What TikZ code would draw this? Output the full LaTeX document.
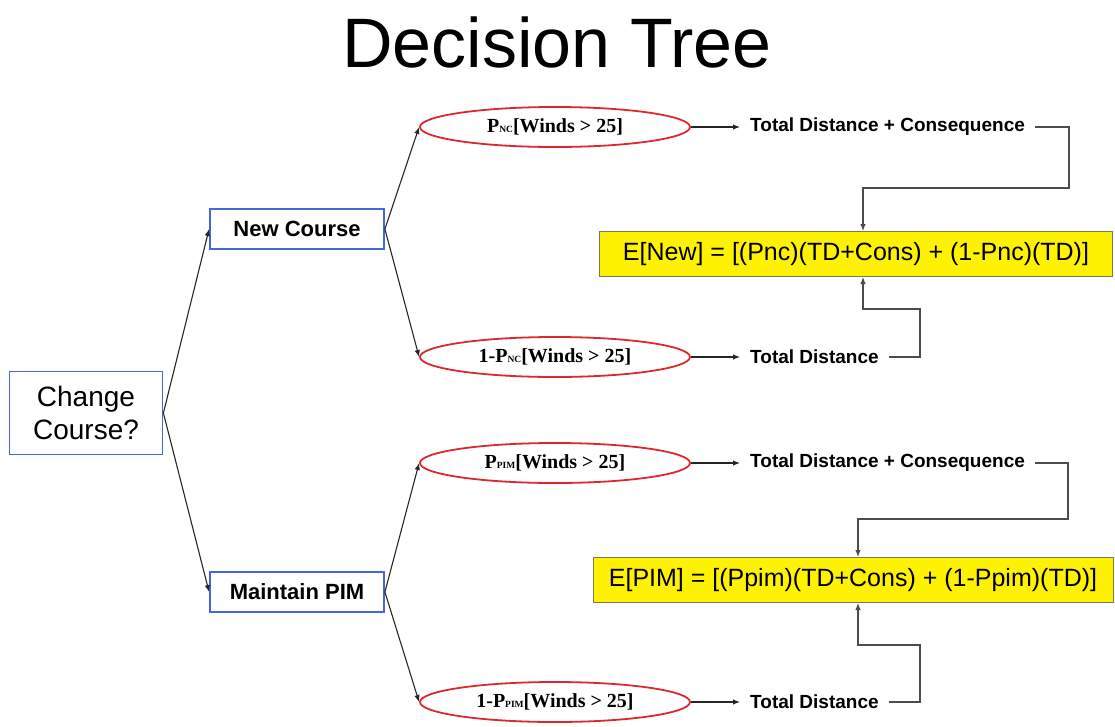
\documentclass[tikz,border=0pt]{standalone}
\usepackage{fontspec}
\setmainfont{Liberation Sans}
\newfontfamily\tms{Liberation Serif}
\usepackage{xcolor}
\usetikzlibrary{shapes.geometric,arrows.meta}

\definecolor{boxblue}{RGB}{66,104,218}
\definecolor{ovalred}{RGB}{222,40,48}
\definecolor{evline}{RGB}{120,120,90}
\newcommand{\sml}[1]{{\fontsize{9.5}{9}\selectfont #1}}

\begin{document}
\begin{tikzpicture}[x=1pt,y=-1pt]
        \tikzset{box/.style={draw=boxblue,line width=1.8pt,inner sep=0pt,align=center},
            choice/.style={box,minimum width=174pt,minimum height=40pt,
                font=\fontsize{22}{24}\selectfont\bfseries},
            chance/.style={ellipse,draw=ovalred,line width=1.8pt,inner sep=0pt,
                minimum width=270pt,minimum height=40pt,font=\fontsize{20}{20}\selectfont\tms\bfseries},
            outcome/.style={inner sep=10pt,anchor=west,font=\fontsize{19}{20}\selectfont\bfseries},
            ev/.style={fill=yellow,draw=evline,line width=1pt,minimum height=45pt,
                font=\fontsize{25}{26}\selectfont},
            arr/.style={draw=black!85,line width=1.1pt,-{Latex[length=7pt,width=5.5pt]}},
            link/.style={arr,draw=black!70}}
        \useasboundingbox (0,0) rectangle (1115,726);
        \node[font=\fontsize{70}{70}\selectfont] (title) at (557,42) {Decision Tree};
        % decision nodes
        \node[box,minimum width=153pt,minimum height=83pt,font=\fontsize{28}{33}\selectfont] (change) at (86,413) {Change\\Course?};
        \node[choice] (new) at (297,229) {New Course};
        \node[choice] (pim) at (297,592) {Maintain PIM};
        % chance nodes
        \node[chance] (nc1) at (555,127) {P\sml{NC}[Winds > 25]};
        \node[chance] (nc2) at (555,357) {1-P\sml{NC}[Winds > 25]};
        \node[chance] (pim1) at (555,463) {P\sml{PIM}[Winds > 25]};
        \node[chance] (pim2) at (555,702) {1-P\sml{PIM}[Winds > 25]};
        % outcomes
        \node[outcome] (tdc1) at (740,127) {Total Distance + Consequence};
        \node[outcome] (td1) at (740,357) {Total Distance};
        \node[outcome] (tdc2) at (740,463) {Total Distance + Consequence};
        \node[outcome] (td2) at (740,702) {Total Distance};
        % expected values
        \node[ev,minimum width=513pt] (enew) at (856,254) {E[New] = [(Pnc)(TD+Cons) + (1-Pnc)(TD)]};
        \node[ev,minimum width=520pt] (epim) at (853,580) {E[PIM] = [(Ppim)(TD+Cons) + (1-Ppim)(TD)]};
        \coordinate (k1) at (1069,188);
        \coordinate (k2) at (920,309);
        \coordinate (k3) at (1068,519);
        \coordinate (k4) at (920,645);

        \draw[arr] (change.east) -- (new.west);
        \draw[arr] (change.east) -- (pim.west);
        \draw[arr] (new.east) -- (nc1.west);
        \draw[arr] (new.east) -- (nc2.west);
        \draw[arr] (pim.east) -- (pim1.west);
        \draw[arr] (pim.east) -- (pim2.west);
        \draw[arr] (nc1) -- (tdc1);
        \draw[arr] (nc2) -- (td1);
        \draw[arr] (pim1) -- (tdc2);
        \draw[arr] (pim2) -- (td2);
        \draw[link] (tdc1.east) -| (k1) -| ([xshift=7pt]enew.north);
        \draw[link] (td1.east) -| (k2) -| ([xshift=7pt]enew.south);
        \draw[link] (tdc2.east) -| (k3) -| ([xshift=5pt]epim.north);
        \draw[link] (td2.east) -| (k4) -| ([xshift=5pt]epim.south);
    \end{tikzpicture}
\end{document}
